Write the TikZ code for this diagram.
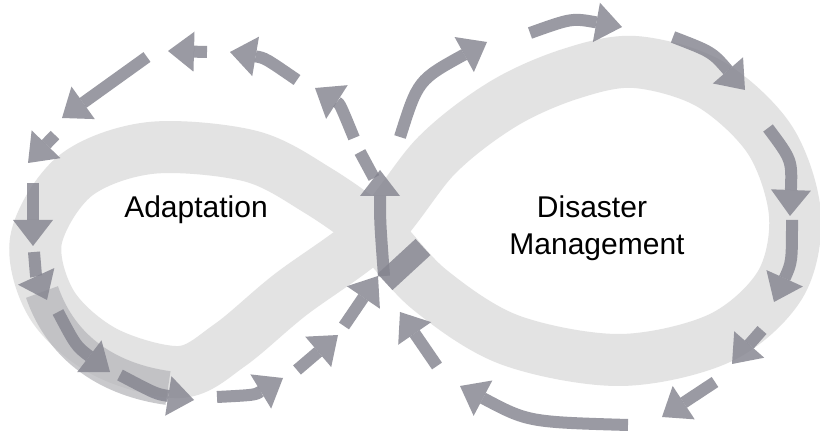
\documentclass[tikz,border=0pt]{standalone}
\usepackage{fontspec}
\setmainfont{Liberation Sans}
\usetikzlibrary{arrows.meta}
\definecolor{bandC}{HTML}{E3E3E3}
\definecolor{bandD}{HTML}{B8B8BC}
\definecolor{flowC}{HTML}{84848F}
\tikzset{
  band/.style={draw=bandC, line width=52pt, line join=round},
  flow/.style={draw=flowC, line width=12pt, opacity=0.82,
    -{Triangle[length=26pt, width=40pt, line width=0pt]}},
  bar/.style={draw=flowC, line width=12pt, opacity=0.82},
  lbl/.style={anchor=base, font=\fontsize{30}{36}\selectfont},
}
\begin{document}
\begin{tikzpicture}[x=1pt, y=-1pt]
  \useasboundingbox[fill=white] (0,0) rectangle (820,438);
  % the ribbon
  \draw[band] plot[smooth cycle, tension=0.55] coordinates {
    (375,232) (437,155) (503,104) (570,74) (635,62) (710,84) (770,140)
    (795,215) (780,285) (720,338) (620,360) (510,340) (430,290)
    (375,232) (317,190) (250,156) (150,148) (75,176) (36,240) (52,305)
    (105,352) (180,372) (230,345) (290,295)};
  \draw[draw=bandD, line width=34pt, opacity=0.75] (42,292) .. controls (62,350) and (110,380) .. (168,388);
  % right loop
  \draw[flow] (400,137) .. controls (418,80) .. (487,42);
  \draw[flow] (530,33) .. controls (572,18) .. (622,27);
  \draw[flow] (673,37) .. controls (712,52) .. (745,90);
  \draw[flow] (768,128) .. controls (792,160) .. (790,216);
  \draw[flow] (792,220) .. controls (792,262) .. (774,302);
  \draw[flow] (762,330) -- (732,364);
  \draw[flow] (715,382) -- (662,417);
  \draw[flow] (628,425) .. controls (528,422) .. (460,386);
  \draw[flow] (437,366) -- (400,312);
  \draw[bar, line width=22pt] (385,282) -- (423,247);
  % crossing
  \draw[flow] (384,276) .. controls (380,222) .. (380,170);
  \draw[bar] (360,152) -- (374,178);
  % left loop
  \draw[flow] (354,138) .. controls (340,104) .. (315,88);
  \draw[flow] (297,80) .. controls (265,58) .. (230,52);
  \draw[flow] (207,52) -- (168,51);
  \draw[flow] (147,57) -- (62,118);
  \draw[flow] (55,135) -- (28,163);
  \draw[flow] (33,183) -- (33,246);
  \draw[flow] (34,252) .. controls (36,276) .. (47,300);
  \draw[flow] (58,312) .. controls (76,346) .. (110,372);
  \draw[flow] (120,375) .. controls (156,394) .. (194,400);
  \draw[flow] (217,397) .. controls (255,395) .. (283,378);
  \draw[flow] (297,370) -- (338,335);
  \draw[flow] (344,326) -- (378,276);
  % labels
  \node[lbl] (adapt) at (196,218) {Adaptation};
  \node[lbl] (dis) at (592,218) {Disaster};
  \node[lbl] (mgt) at (597,255) {Management};
\end{tikzpicture}
\end{document}
